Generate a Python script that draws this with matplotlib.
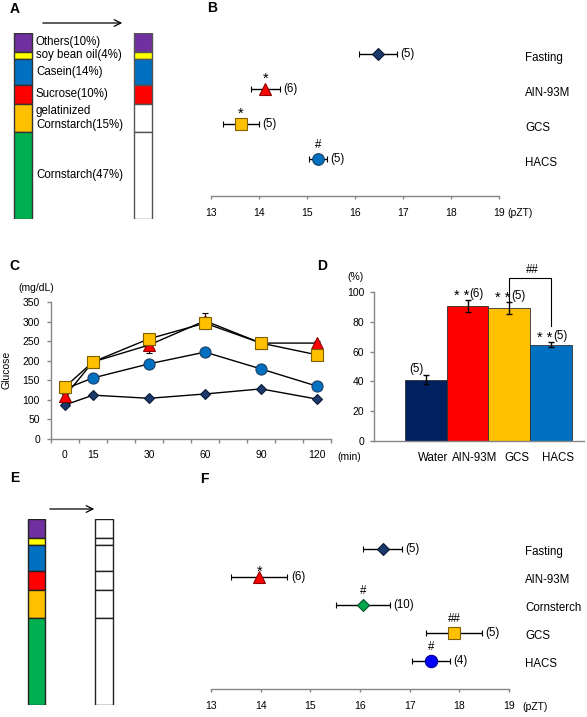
import numpy as np
import matplotlib
matplotlib.use("Agg")
import matplotlib.pyplot as plt


W, H = 587, 717
GRAY = "#868686"

# A / E: diet composition (%)
diet_labels = ["Others(10%)", "soy bean oil(4%)", "Casein(14%)", "Sucrose(10%)",
               "gelatinized\nCornstarch(15%)", "Cornstarch(47%)"]
diet_pct = [10, 4, 14, 10, 15, 47]
diet_colors = ["#7030A0", "#FFFF00", "#0070C0", "#FF0000", "#FFC000", "#00B050"]
a_after_colors = ["#7030A0", "#FFFF00", "#0070C0", "#FF0000", "white", "white"]
e_after_colors = ["white"] * 6

# B: peak time (pZT)
b_groups = ["Fasting", "AIN-93M", "GCS", "HACS"]
b_means = [16.48, 14.13, 13.62, 15.23]
b_err = [0.40, 0.30, 0.38, 0.18]
b_n = [5, 6, 5, 5]
b_marks = ["", "*", "*", "#"]

# C: blood glucose (mg/dL)
c_times = ["0", "15", "30", "60", "90", "120"]
c_slots = [0, 1, 3, 5, 7, 9]
c_fasting = [87, 112, 104, 115, 128, 102]
c_fasting_err = [4, 4, 5, 5, 5, 4]
c_hacs = [128, 156, 192, 222, 179, 135]
c_hacs_err = [5, 6, 6, 6, 6, 5]
c_ain = [110, 197, 240, 302, 245, 245]
c_ain_err = [6, 8, 20, 20, 8, 5]
c_gcs = [133, 197, 256, 296, 245, 215]
c_gcs_err = [6, 10, 12, 12, 10, 8]

# D: bars (%)
d_groups = ["Water", "AIN-93M", "GCS", "HACS"]
d_vals = [41, 90.6, 89, 64.5]
d_err = [3, 3.8, 4, 1.7]
d_n = [5, 6, 5, 5]
d_marks = ["", "* *", "* *", "* *"]
d_colors = ["#002060", "#FF0000", "#FFC000", "#0070C0"]

# F: peak time (pZT)
f_groups = ["Fasting", "AIN-93M", "Cornsterch", "GCS", "HACS"]
f_means = [16.46, 13.97, 16.06, 17.89, 17.43]
f_err = [0.39, 0.57, 0.54, 0.57, 0.38]
f_n = [5, 6, 10, 5, 4]
f_marks = ["", "*", "#", "##", "#"]

STYLES = {
    "Fasting": ("D", "#1B3A6B", "#0A1A36"),
    "AIN-93M": ("^", "#FF0000", "#8B0000"),
    "GCS": ("s", "#FFC000", "#7F6000"),
    "HACS": ("o", "#0070C0", "#1F3F66"),
    "Cornsterch": ("D", "#00A550", "#00502A"),
}

plt.rcParams["font.family"] = ["Liberation Sans", "DejaVu Sans"]
TXT = 8.3
TICK = 7.5
STAR = 10.5

fig = plt.figure(figsize=(W / 100, H / 100), dpi=100)


def px_axes(left, top, right, bottom):
    ax = fig.add_axes([left / W, 1 - bottom / H, (right - left) / W, (bottom - top) / H])
    ax.patch.set_alpha(0)
    return ax


def style_spines(ax, left=True):
    for side in ["top", "right"]:
        ax.spines[side].set_visible(False)
    ax.spines["left"].set_visible(left)
    for side in ["left", "bottom"]:
        ax.spines[side].set_color(GRAY)
        ax.spines[side].set_linewidth(1)


# overlay for panel letters, arrows and axis units
ov = fig.add_axes([0, 0, 1, 1])
ov.set_xlim(0, W)
ov.set_ylim(H, 0)
ov.axis("off")
for letter, x, y in [("A", 15, 9), ("B", 212, 8), ("C", 14, 266),
                     ("D", 322, 266), ("E", 15, 478), ("F", 204, 479)]:
    ov.text(x, y, letter, fontsize=10, fontweight="bold", ha="center", va="center")
for x0, x1, y in [(40, 125, 23), (47, 97, 509)]:
    ov.annotate("", xy=(x1, y), xytext=(x0, y),
                arrowprops=dict(arrowstyle="->", lw=0.9, color="black",
                                mutation_scale=12))
ov.text(507, 213, "(pZT)", fontsize=TICK, ha="left", va="center")
ov.text(522, 707, "(pZT)", fontsize=TICK, ha="left", va="center")
ov.text(36, 288, "(mg/dL)", fontsize=TICK, ha="center", va="center")
ov.text(7, 370, "Glucose", fontsize=TICK, ha="center", va="center", rotation=90)
ov.text(349, 457, "(min)", fontsize=TICK, ha="center", va="center")
ov.text(355, 277, "(%)", fontsize=TICK, ha="center", va="center")


def diet_bars(ax, x_left, x_right, width, after_colors, left_edge, right_edge, labels):
    bottoms = np.concatenate([[0], np.cumsum(diet_pct)[:-1]])
    ax.bar([x_left] * 6, diet_pct, bottom=bottoms, width=width,
           color=diet_colors, edgecolor=left_edge, linewidth=1)
    ax.bar([x_right] * 6, diet_pct, bottom=bottoms, width=width,
           color=after_colors, edgecolor=right_edge, linewidth=1)
    ax.set_xlim(0, 170)
    ax.set_ylim(100, 0)
    ax.axis("off")
    if labels:
        for lab, b, p in zip(diet_labels, bottoms, diet_pct):
            ax.text(x_left + width / 2 + 4, b + p / 2, lab, fontsize=TXT,
                    ha="left", va="center", linespacing=1.2)


# A
ax_a = px_axes(0, 33, 170, 219)
diet_bars(ax_a, 23, 143, 18, a_after_colors, "#333333", "#555555", True)

# E
ax_e = px_axes(0, 519, 170, 705)
diet_bars(ax_e, 36.5, 104, 17.5, e_after_colors, "#222222", "#222222", False)


def pzt_panel(ax, groups, means, errs, ns, marks, sizes, ylim, label_x, label_dy,
              star_dy, hash_dy, hacs_color=None):
    rows = np.arange(len(groups))
    for r, g, m, e, n, mk in zip(rows, groups, means, errs, ns, marks):
        marker, fc, ec = STYLES[g]
        if g == "HACS" and hacs_color:
            fc, ec = hacs_color
        ax.errorbar(m, r, xerr=e, fmt=marker, ms=sizes[marker], mfc=fc, mec=ec,
                    mew=0.8, ecolor="black", elinewidth=1, capsize=2.3, capthick=1)
        ax.annotate(f"({n})", xy=(m + e, r), xytext=(2.5, 0), textcoords="offset points",
                    fontsize=TXT, ha="left", va="center")
        if mk == "*":
            ax.annotate(mk, xy=(m, r), xytext=(0, star_dy), textcoords="offset points",
                        fontsize=STAR, ha="center", va="center")
        elif mk:
            ax.annotate(mk, xy=(m, r), xytext=(0, hash_dy), textcoords="offset points",
                        fontsize=TXT, ha="center", va="center")
        ax.text(label_x, r + label_dy, g, transform=ax.get_yaxis_transform(),
                fontsize=TXT, ha="left", va="center")
    ax.set_xlim(13, 19)
    ax.set_ylim(*ylim)
    ax.set_xticks(range(13, 20))
    ax.set_yticks([])
    style_spines(ax, left=False)
    ax.tick_params(axis="x", length=2.5, width=1, color=GRAY, labelsize=TICK, pad=6)


# B
ax_b = px_axes(211, 35, 499, 196)
pzt_panel(ax_b, b_groups, b_means, b_err, b_n, b_marks,
          {"D": 6.1, "^": 8.2, "s": 8.6, "o": 8.4}, (4.06, -0.54), 1.09, 0.13, 7.5, 10)

# F
ax_f = px_axes(211, 530, 509, 689)
pzt_panel(ax_f, f_groups, f_means, f_err, f_n, f_marks,
          {"D": 5.8, "^": 8.6, "s": 8.0, "o": 8.9}, (5.0, -0.68), 1.054, 0.1, 3.5, 10,
          hacs_color=("#0000FF", "#00008B"))

# C
ax_c = px_axes(51, 302, 331, 439)
xc = np.array(c_slots) + 0.5
for vals, errs, g, ms in [(c_fasting, c_fasting_err, "Fasting", 5.0),
                          (c_hacs, c_hacs_err, "HACS", 8.0),
                          (c_ain, c_ain_err, "AIN-93M", 8.2),
                          (c_gcs, c_gcs_err, "GCS", 8.6)]:
    marker, fc, ec = STYLES[g]
    ax_c.errorbar(xc, vals, yerr=errs, fmt="-" + marker, color="black", lw=1,
                  ms=ms, mfc=fc, mec=ec, mew=0.8, ecolor="black", elinewidth=0.8,
                  capsize=2, capthick=0.8)
ax_c.set_xlim(0, 10)
ax_c.set_ylim(0, 350)
ax_c.set_yticks(range(0, 351, 50))
ax_c.set_xticks(xc)
ax_c.set_xticklabels(c_times)
ax_c.set_xticks(np.arange(11), minor=True)
style_spines(ax_c)
ax_c.tick_params(axis="y", length=3, width=1, color=GRAY, labelsize=TICK, pad=5)
ax_c.tick_params(axis="x", which="major", length=0, labelsize=TICK, pad=8)
ax_c.tick_params(axis="x", which="minor", length=3, width=1, color=GRAY)

# D
ax_d = px_axes(374, 292, 584, 441)
xd = np.arange(len(d_groups))
ax_d.bar(xd, d_vals, width=1.0, color=d_colors, edgecolor="#303030", linewidth=0.6,
         yerr=d_err, error_kw=dict(ecolor="black", elinewidth=1, capsize=2.3, capthick=1))
for x, v, e, n, mk in zip(xd, d_vals, d_err, d_n, d_marks):
    if mk:
        ax_d.annotate(f"({n})", xy=(x, v + e), xytext=(1.5, 0), textcoords="offset points",
                      fontsize=TXT, ha="left", va="bottom")
        ax_d.annotate(mk, xy=(x, v + e), xytext=(1, -2), textcoords="offset points",
                      fontsize=STAR, ha="right", va="bottom")
    else:
        ax_d.annotate(f"({n})", xy=(x, v + e), xytext=(-7, 0), textcoords="offset points",
                      fontsize=TXT, ha="center", va="bottom")
for x, g in zip(xd, d_groups):
    ax_d.annotate(g, xy=(x + 0.17, 0), xycoords=("data", "axes fraction"),
                  xytext=(0, -12), textcoords="offset points",
                  fontsize=TXT, ha="center", va="center", annotation_clip=False)
bracket_top = 109.4
ax_d.plot([2, 2, 3, 3], [94, bracket_top, bracket_top, 77], color="black", lw=0.8,
          clip_on=False)
ax_d.text(2.55, bracket_top + 1.5, "##", fontsize=TXT, ha="center", va="bottom")
ax_d.set_xlim(-1.245, 3.79)
ax_d.set_ylim(0, 100)
ax_d.set_yticks(range(0, 101, 20))
ax_d.set_xticks([])
style_spines(ax_d)
ax_d.tick_params(axis="y", length=3, width=1, color=GRAY, labelsize=TICK, pad=4)

fig.savefig("out.png", dpi=100)
